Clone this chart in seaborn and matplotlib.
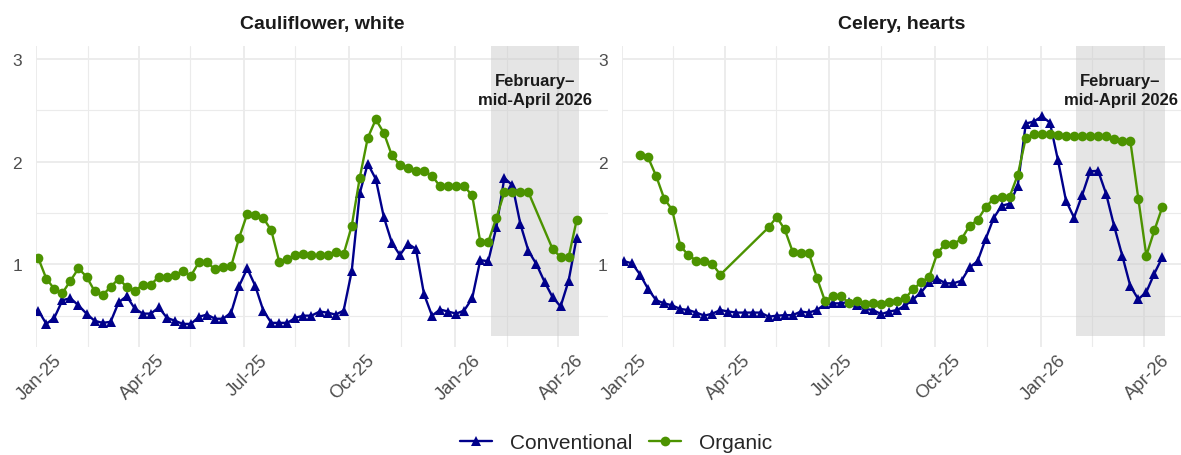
import matplotlib
matplotlib.use("Agg")
import matplotlib.pyplot as plt
import matplotlib.dates as mdates
import matplotlib.transforms as mtransforms
import pandas as pd
import seaborn as sns
import numpy as np

# weekly prices, Jan 3 2025 .. Apr 17 2026
weeks = pd.date_range("2025-01-03", periods=68, freq="7D")

cauli_conv = [0.55, 0.42, 0.48, 0.65, 0.67, 0.60, 0.52, 0.45, 0.43, 0.44, 0.63, 0.69,
              0.57, 0.52, 0.52, 0.58, 0.48, 0.45, 0.42, 0.42, 0.49, 0.51, 0.47, 0.47,
              0.53, 0.79, 0.96, 0.79, 0.55, 0.43, 0.43, 0.43, 0.48, 0.50, 0.50, 0.54,
              0.53, 0.51, 0.55, 0.93, 1.69, 1.98, 1.83, 1.46, 1.21,
              1.09, 1.20, 1.15, 0.71, 0.50, 0.56, 0.54, 0.52, 0.55, 0.67, 1.04, 1.03,
              1.36, 1.84, 1.77, 1.39, 1.13, 1.00, 0.83, 0.68, 0.59, 0.84, 1.26]
cauli_org = [1.06, 0.86, 0.76, 0.72, 0.84, 0.96, 0.88, 0.74, 0.70, 0.78, 0.86, 0.78,
             0.74, 0.80, 0.80, 0.88, 0.88, 0.90, 0.93, 0.89, 1.02, 1.02, 0.95, 0.97,
             0.98, 1.26, 1.49, 1.48, 1.45, 1.33, 1.02, 1.05, 1.09, 1.10, 1.09, 1.09,
             1.09, 1.12, 1.10, 1.37, 1.84, 2.23, 2.41, 2.28, 2.06,
             1.97, 1.94, 1.91, 1.91, 1.86, 1.76, 1.76, 1.76, 1.76, 1.67, 1.22, 1.22,
             1.45, 1.70, 1.70, 1.70, 1.70, np.nan, np.nan, 1.15, 1.07, 1.07, 1.43]
celery_conv = [1.03, 1.01, 0.90, 0.76, 0.65, 0.62, 0.60, 0.565, 0.555, 0.53, 0.50, 0.52,
               0.555, 0.54, 0.53, 0.53, 0.53, 0.53, 0.49, 0.50, 0.505, 0.505, 0.54, 0.53,
               0.555, 0.61, 0.62, 0.62, 0.635, 0.60, 0.565, 0.555, 0.515, 0.54, 0.555, 0.60,
               0.66, 0.73, 0.825, 0.86, 0.815, 0.815, 0.84, 0.97, 1.03,
               1.245, 1.45, 1.57, 1.59, 1.765, 2.37, 2.39, 2.44, 2.38, 2.015, 1.62, 1.455,
               1.67, 1.905, 1.91, 1.685, 1.37, 1.085, 0.79, 0.66, 0.73, 0.91, 1.07]
celery_org = [np.nan, np.nan, 2.06, 2.04, 1.86, 1.64, 1.53, 1.18, 1.09, 1.035, 1.035, 1.0,
              0.90, np.nan, np.nan, np.nan, np.nan, np.nan, 1.36, 1.46, 1.34, 1.12, 1.11, 1.11,
              0.87, 0.645, 0.69, 0.69, 0.625, 0.64, 0.61, 0.62, 0.61, 0.63, 0.64, 0.67,
              0.76, 0.825, 0.88, 1.11, 1.20, 1.20, 1.245, 1.375, 1.43,
              1.555, 1.64, 1.66, 1.66, 1.87, 2.23, 2.27, 2.27, 2.27, 2.26, 2.25, 2.245,
              2.245, 2.245, 2.245, 2.245, 2.22, 2.205, 2.205, 1.64, 1.085, 1.33, 1.56]

products = ["Cauliflower, white", "Celery, hearts"]
types = ["Conventional", "Organic"]
shade_start, shade_end = pd.Timestamp("2026-02-01"), pd.Timestamp("2026-04-19")
shade_label = "February\u2013\nmid-April 2026"

rows = []
for prod, conv, org in [(products[0], cauli_conv, cauli_org), (products[1], celery_conv, celery_org)]:
    for t, vals in zip(types, [conv, org]):
        for d, v in zip(weeks, vals):
            rows.append({"product": prod, "type": t, "date": d, "price": v})
df = pd.DataFrame(rows).dropna()

sns.set_theme(style="white")
plt.rcParams["font.family"] = ["Liberation Sans", "DejaVu Sans"]

palette = {"Conventional": "#00008B", "Organic": "#4C9300"}
markers = {"Conventional": "^", "Organic": "o"}

fig = plt.figure(figsize=(11.81, 4.56), dpi=100)
W, H = 1181, 456
ax1 = fig.add_axes([36 / W, 1 - 348 / H, 572 / W, 301.3 / H])
ax2 = fig.add_axes([621.7 / W, 1 - 348 / H, (W - 621.7) / W, 301.3 / H])

x0 = pd.Timestamp("2025-01-01")
xlims = [(x0, x0 + pd.Timedelta(days=498.3)), (x0, x0 + pd.Timedelta(days=487.2))]
shift = mtransforms.ScaledTranslation(3 / 100, 0, fig.dpi_scale_trans)

for ax, prod, xl in zip([ax1, ax2], products, xlims):
    ax.fill_between([shade_start, shade_end], 0.305, 3.2, color="#CCCCCC", alpha=0.5,
                    linewidth=0, zorder=2)
    sub = df[df["product"] == prod]
    sns.lineplot(data=sub, x="date", y="price", hue="type", style="type",
                 palette=palette, markers=markers, dashes=False, hue_order=types,
                 style_order=types, linewidth=1.7, markersize=7,
                 markeredgewidth=0, ax=ax, zorder=3)
    ax.set_xlim(*xl)
    ax.set_ylim(0.195, 3.128)
    ax.set_yticks([1, 2, 3])
    ax.set_yticks([0.5, 1.5, 2.5], minor=True)
    ax.xaxis.set_major_locator(mdates.MonthLocator(bymonth=[1, 4, 7, 10]))
    ax.xaxis.set_minor_locator(mdates.MonthLocator(bymonth=[2, 5, 8, 11], bymonthday=15))
    ax.xaxis.set_major_formatter(mdates.DateFormatter("%b-%y"))
    ax.grid(which="major", color="#EBEBEB", linewidth=1.3, zorder=0)
    ax.grid(which="minor", color="#EBEBEB", linewidth=0.8, zorder=0)
    ax.set_axisbelow(True)
    for s in ax.spines.values():
        s.set_visible(False)
    ax.tick_params(which="both", length=0)
    ax.tick_params(axis="x", labelsize=13.2, labelcolor="#4D4D4D", rotation=45, pad=3)
    ax.tick_params(axis="y", labelsize=12.5, labelcolor="#4D4D4D", pad=10)
    for lab in ax.get_xticklabels():
        lab.set_ha("center")
        lab.set_transform(lab.get_transform() + shift)
    ax.set_xlabel("")
    ax.set_ylabel("")
    ax.set_title(prod, fontsize=14, fontweight="bold", color="#1A1A1A", pad=13)
    mid = shade_start + (shade_end - shade_start) / 2
    ax.text(mid, 2.70, shade_label, ha="center", va="center", fontsize=12,
            fontweight="bold", color="#1A1A1A", linespacing=1.35, zorder=4)

handles, labels = ax1.get_legend_handles_labels()
ax1.get_legend().remove()
ax2.get_legend().remove()
fig.legend(handles, labels, loc="center", bbox_to_anchor=(616 / W, 1 - 444 / H), ncol=2,
           frameon=False, fontsize=15, handlelength=1.55, columnspacing=0.8,
           handletextpad=0.85)

fig.savefig("out.png", dpi=100)
